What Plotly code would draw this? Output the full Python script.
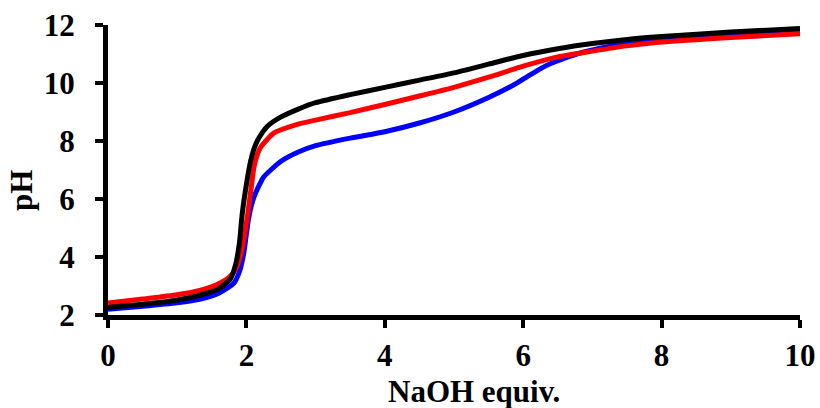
import plotly.graph_objects as go

# NaOH equivalents and pH for each curve
black_x = [0, 0.5, 1.0, 1.34, 1.6, 1.77, 1.85, 1.9, 1.94, 2.0, 2.06, 2.12, 2.18, 2.3, 2.5, 2.75, 3.0, 3.5, 4.0, 4.5, 5.0, 5.5, 6.0, 6.5, 7.0, 7.5, 8.0, 9.0, 10.0]
black_y = [2.26, 2.37, 2.52, 2.69, 2.9, 3.25, 3.8, 4.5, 5.5, 6.5, 7.3, 7.8, 8.1, 8.5, 8.83, 9.1, 9.32, 9.6, 9.85, 10.1, 10.35, 10.65, 10.95, 11.18, 11.36, 11.5, 11.6, 11.76, 11.88]

red_x = [0, 0.5, 1.0, 1.34, 1.6, 1.75, 1.85, 1.92, 1.97, 2.02, 2.07, 2.11, 2.16, 2.21, 2.4, 2.7, 3.0, 3.5, 4.0, 4.5, 5.0, 5.5, 6.0, 6.5, 7.0, 7.5, 8.0, 9.0, 10.0]
red_y = [2.41, 2.55, 2.7, 2.86, 3.08, 3.3, 3.6, 4.1, 4.7, 5.5, 6.4, 7.1, 7.55, 7.8, 8.28, 8.55, 8.72, 8.98, 9.26, 9.55, 9.85, 10.2, 10.58, 10.9, 11.1, 11.28, 11.41, 11.57, 11.7]

blue_x = [0, 0.5, 1.0, 1.34, 1.6, 1.82, 1.9, 1.96, 2.0, 2.03, 2.07, 2.11, 2.18, 2.25, 2.5, 2.75, 3.0, 3.5, 4.0, 4.5, 5.0, 5.5, 5.86, 6.1, 6.35, 6.83, 7.4, 8.0, 9.0, 10.0]
blue_y = [2.2, 2.3, 2.42, 2.55, 2.75, 3.1, 3.5, 4.1, 4.8, 5.3, 5.75, 6.07, 6.45, 6.76, 7.3, 7.62, 7.84, 8.1, 8.32, 8.62, 9.0, 9.5, 9.93, 10.28, 10.62, 11.04, 11.34, 11.5, 11.65, 11.77]

x_ticks = [0, 2, 4, 6, 8, 10]
y_ticks = [2, 4, 6, 8, 10, 12]
x_title = "NaOH equiv."
y_title = "pH"

FAM = "Liberation Serif, Times New Roman, serif"
FS = 31

fig = go.Figure()
for xs, ys, col in [(blue_x, blue_y, "#0000FF"), (red_x, red_y, "#FF0000"), (black_x, black_y, "#000000")]:
    fig.add_trace(go.Scatter(x=xs, y=ys, mode="lines",
                             line=dict(color=col, width=5, shape="spline", smoothing=0.6),
                             showlegend=False, cliponaxis=False))

axis_common = dict(showgrid=False, zeroline=False, showline=True, linecolor="black", linewidth=5,
                   ticks="outside", ticklen=8, tickwidth=4, tickcolor="black", automargin=False,
                   tickfont=dict(family=FAM, size=FS, color="black", weight="bold"))

fig.update_layout(
    template="none",
    width=820, height=408,
    margin=dict(l=108, r=20, t=25, b=93),
    paper_bgcolor="white", plot_bgcolor="white",
    font=dict(family=FAM, size=FS, color="black"),
    xaxis=dict(range=[0, 10], tickvals=x_ticks, ticklabelstandoff=1, **axis_common),
    yaxis=dict(range=[2, 12], tickvals=y_ticks, ticklabelstandoff=14, **axis_common),
    annotations=[
        dict(text="<b>" + x_title + "</b>", xref="paper", yref="paper", x=0.5296, y=0,
             xanchor="center", yanchor="middle", yshift=-76, showarrow=False,
             font=dict(family=FAM, size=FS, color="black")),
        dict(text="<b>" + y_title + "</b>", xref="paper", yref="paper", x=0, y=0.4276,
             xanchor="center", yanchor="middle", xshift=-86, textangle=-90, showarrow=False,
             font=dict(family=FAM, size=FS, color="black")),
    ],
)
fig.write_html("out.html")
